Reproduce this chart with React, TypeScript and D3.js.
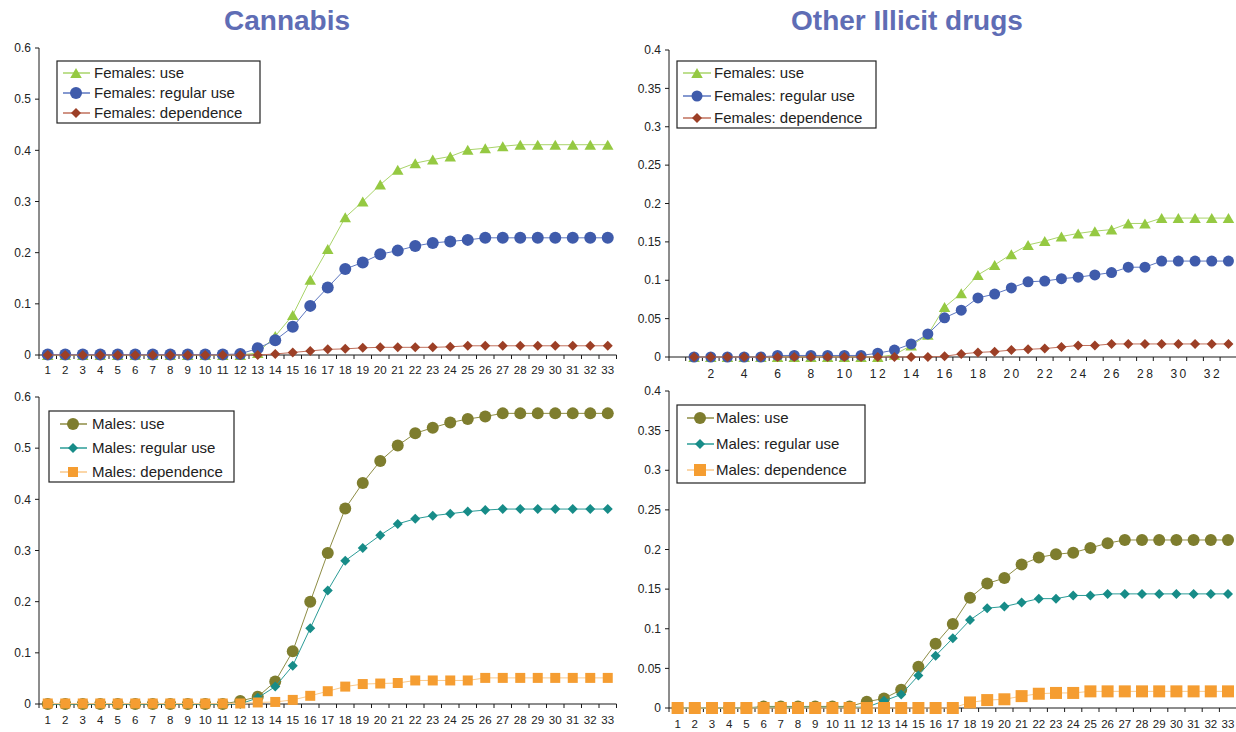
import React from "react";
import * as d3 from "d3";

// ---------- data ----------
const ages: string[] = Array.from({ length: 33 }, (_, i) => String(i + 1));
const agesWithBlank: string[] = ["", ...ages];

const cannabisYTicks = [0, 0.1, 0.2, 0.3, 0.4, 0.5, 0.6];
const cannabisYLabels = ["0", "0.1", "0.2", "0.3", "0.4", "0.5", "0.6"];
const otherYTicks = [0, 0.05, 0.1, 0.15, 0.2, 0.25, 0.3, 0.35, 0.4];
const otherYLabels = ["0", "0.05", "0.1", "0.15", "0.2", "0.25", "0.3", "0.35", "0.4"];

const cannabisFemUse = [0, 0, 0, 0, 0, 0, 0, 0, 0, 0, 0, 0, 0.004, 0.037, 0.078, 0.147, 0.207, 0.269, 0.3, 0.333, 0.362, 0.375, 0.382, 0.388, 0.401, 0.404, 0.408, 0.411, 0.411, 0.411, 0.411, 0.411, 0.411];
const cannabisFemReg = [0.001, 0.001, 0.001, 0.001, 0.001, 0.001, 0.001, 0.001, 0.001, 0.001, 0.001, 0.002, 0.013, 0.029, 0.055, 0.096, 0.132, 0.168, 0.181, 0.197, 0.204, 0.213, 0.219, 0.222, 0.225, 0.229, 0.229, 0.229, 0.229, 0.229, 0.229, 0.229, 0.229];
const cannabisFemDep = [0, 0, 0, 0, 0, 0, 0, 0, 0, 0, 0, 0, 0, 0.002, 0.005, 0.008, 0.011, 0.012, 0.014, 0.015, 0.015, 0.015, 0.015, 0.016, 0.018, 0.018, 0.018, 0.018, 0.018, 0.018, 0.018, 0.018, 0.018];

const cannabisMaleUse = [0, 0, 0, 0, 0, 0, 0, 0, 0, 0, 0, 0.006, 0.014, 0.044, 0.103, 0.2, 0.295, 0.382, 0.432, 0.475, 0.505, 0.529, 0.54, 0.55, 0.557, 0.562, 0.568, 0.568, 0.568, 0.568, 0.568, 0.568, 0.568];
const cannabisMaleReg = [0, 0, 0, 0, 0, 0, 0, 0, 0, 0, 0, 0, 0.012, 0.034, 0.075, 0.148, 0.222, 0.28, 0.305, 0.33, 0.352, 0.362, 0.368, 0.372, 0.376, 0.379, 0.381, 0.381, 0.381, 0.381, 0.381, 0.381, 0.381];
const cannabisMaleDep = [0.001, 0.001, 0.001, 0.001, 0.001, 0.001, 0.001, 0.001, 0.001, 0.001, 0.001, 0.001, 0.003, 0.004, 0.008, 0.016, 0.025, 0.034, 0.039, 0.04, 0.041, 0.046, 0.046, 0.046, 0.046, 0.051, 0.051, 0.051, 0.051, 0.051, 0.051, 0.051, 0.051];

const otherFemUse = [0, 0, 0, 0, 0, 0, 0, 0, 0, 0, 0, 0, 0.003, 0.015, 0.029, 0.065, 0.083, 0.107, 0.12, 0.134, 0.146, 0.151, 0.157, 0.161, 0.164, 0.166, 0.174, 0.174, 0.181, 0.181, 0.181, 0.181, 0.181];
const otherFemReg = [0, 0, 0, 0, 0, 0.002, 0.002, 0.002, 0.002, 0.002, 0.002, 0.005, 0.009, 0.017, 0.03, 0.051, 0.061, 0.077, 0.082, 0.09, 0.098, 0.099, 0.102, 0.104, 0.107, 0.11, 0.117, 0.117, 0.125, 0.125, 0.125, 0.125, 0.125];
const otherFemDep = [0, 0, 0, 0, 0, 0, 0, 0, 0, 0, 0, 0, 0, 0, 0, 0.001, 0.004, 0.006, 0.007, 0.009, 0.01, 0.011, 0.013, 0.015, 0.015, 0.017, 0.017, 0.017, 0.017, 0.017, 0.017, 0.017, 0.017];

const otherMaleUse = [0, 0, 0, 0, 0, 0.002, 0.002, 0.002, 0.002, 0.002, 0.002, 0.008, 0.012, 0.023, 0.052, 0.081, 0.106, 0.139, 0.157, 0.164, 0.181, 0.19, 0.194, 0.196, 0.202, 0.208, 0.212, 0.212, 0.212, 0.212, 0.212, 0.212, 0.212];
const otherMaleReg = [0, 0, 0, 0, 0, 0.001, 0.001, 0.001, 0.001, 0.001, 0.001, 0.001, 0.009, 0.017, 0.041, 0.066, 0.088, 0.111, 0.126, 0.128, 0.133, 0.138, 0.138, 0.142, 0.142, 0.144, 0.144, 0.144, 0.144, 0.144, 0.144, 0.144, 0.144];
const otherMaleDep = [0, 0, 0, 0, 0, 0, 0, 0, 0, 0, 0, 0, 0, 0, 0, 0, 0, 0.007, 0.01, 0.011, 0.015, 0.018, 0.019, 0.019, 0.021, 0.021, 0.021, 0.021, 0.021, 0.021, 0.021, 0.021, 0.021];

// ---------- styles ----------
const FONT = "'Liberation Sans', Arial, sans-serif";
const AXIS = "#1a1a1a";
const TEXT = "#222";

type Marker = "triangle" | "circle" | "diamond" | "square";
interface Series { name: string; values: number[]; color: string; line: string; marker: Marker; size: number; }

function markerPath(m: Marker, s: number): string {
  const h = s / 2;
  if (m === "triangle") return `M0,${-h}L${h * 1.15},${h}L${-h * 1.15},${h}Z`;
  if (m === "diamond") return `M0,${-h}L${h},0L0,${h}L${-h},0Z`;
  if (m === "square") return `M${-h},${-h}H${h}V${h}H${-h}Z`;
  return d3.arc()({ innerRadius: 0, outerRadius: h, startAngle: 0, endAngle: 2 * Math.PI }) as string;
}

interface PanelCfg {
  x0: number; x1: number; yTop: number; yBottom: number; yMax: number;
  ticks: number[]; tickLabels: string[]; cats: string[]; labelEvery: boolean;
  labelDy: number; letterSpacing: number; xFont: number;
  series: Series[];
  legend: { x: number; y: number; w: number; h: number; rows: number[]; mx: number; lx0: number; lx1: number; tx: number };
}

function Panel({ cfg }: { cfg: PanelCfg }) {
  const x = d3.scaleBand<string>().domain(cfg.cats.map((c, i) => String(i))).range([cfg.x0, cfg.x1]).padding(0);
  const y = d3.scaleLinear().domain([0, cfg.yMax]).range([cfg.yBottom, cfg.yTop]);
  const offset = cfg.cats.length - 33;
  const cx = (i: number) => (x(String(i + offset)) as number) + x.bandwidth() / 2;
  const line = d3.line<number>().x((_, i) => cx(i)).y((v) => y(v));
  const bounds = d3.range(cfg.cats.length + 1).map((i) => cfg.x0 + i * x.bandwidth());
  return (
    <g>
      {/* y axis */}
      <line x1={cfg.x0} x2={cfg.x0} y1={y(cfg.yMax)} y2={y(0)} stroke={AXIS} strokeWidth={1} />
      {cfg.ticks.map((t, i) => (
        <g key={"yt" + i}>
          <line x1={cfg.x0 - 4} x2={cfg.x0} y1={y(t)} y2={y(t)} stroke={AXIS} />
          <text x={cfg.x0 - 8} y={y(t)} dy="0.35em" textAnchor="end" fontSize={12} fill={TEXT} fontFamily={FONT}>{cfg.tickLabels[i]}</text>
        </g>
      ))}
      {/* x axis */}
      <line x1={cfg.x0} x2={cfg.x1} y1={y(0)} y2={y(0)} stroke={AXIS} strokeWidth={1} />
      {bounds.map((b, i) => (
        <line key={"xb" + i} x1={b} x2={b} y1={y(0)} y2={y(0) + 4} stroke={AXIS} />
      ))}
      {cfg.cats.map((c, i) => {
        if (!c) return null;
        if (cfg.labelEvery === false && (i % 2 === 1)) return null;
        return (
          <text key={"xl" + i} x={(x(String(i)) as number) + x.bandwidth() / 2 + cfg.letterSpacing / 2} y={y(0) + cfg.labelDy}
            textAnchor="middle" fontSize={cfg.xFont} fill={TEXT} fontFamily={FONT} letterSpacing={cfg.letterSpacing}>{c}</text>
        );
      })}
      {/* series */}
      {cfg.series.map((s, si) => (
        <g key={"s" + si}>
          <path d={line(s.values) as string} fill="none" stroke={s.line} strokeWidth={1} />
          {s.values.map((v, i) => (
            <path key={i} d={markerPath(s.marker, s.size)} transform={`translate(${cx(i)},${y(v)})`} fill={s.color} />
          ))}
        </g>
      ))}
      {/* legend */}
      <rect x={cfg.legend.x} y={cfg.legend.y} width={cfg.legend.w} height={cfg.legend.h} fill="#fff" stroke="#222" strokeWidth={1.2} />
      {cfg.series.map((s, si) => {
        const ry = cfg.legend.rows[si];
        return (
          <g key={"lg" + si}>
            <line x1={cfg.legend.lx0} x2={cfg.legend.lx1} y1={ry} y2={ry} stroke={s.line} strokeWidth={1.5} />
            <path d={markerPath(s.marker, s.size)} transform={`translate(${cfg.legend.mx},${ry})`} fill={s.color} />
            <text x={cfg.legend.tx} y={ry} dy="0.35em" fontSize={15} fill={TEXT} fontFamily={FONT}>{s.name}</text>
          </g>
        );
      })}
    </g>
  );
}

const green = "#95c942", greenL = "#a9d46a";
const blue = "#3f5bab", blueL = "#5d77c0";
const brown = "#9c3f26", brownL = "#c0705c";
const olive = "#7e7d2e", oliveL = "#8e8d45";
const teal = "#178c88", tealL = "#2b9c97";
const orange = "#f59d31", orangeL = "#fac98b";

const femSeries = (u: number[], r: number[], d: number[], cs: number): Series[] => [
  { name: "Females: use", values: u, color: green, line: greenL, marker: "triangle", size: 10 },
  { name: "Females: regular use", values: r, color: blue, line: blueL, marker: "circle", size: cs },
  { name: "Females: dependence", values: d, color: brown, line: brownL, marker: "diamond", size: 10 },
];
const maleSeries = (u: number[], r: number[], d: number[], cs: number, ss: number): Series[] => [
  { name: "Males: use", values: u, color: olive, line: oliveL, marker: "circle", size: cs },
  { name: "Males: regular use", values: r, color: teal, line: tealL, marker: "diamond", size: 10 },
  { name: "Males: dependence", values: d, color: orange, line: orangeL, marker: "square", size: ss },
];

const panels: PanelCfg[] = [
  {
    x0: 39, x1: 39 + 33 * 17.5, yTop: 48, yBottom: 355, yMax: 0.6, ticks: cannabisYTicks, tickLabels: cannabisYLabels,
    cats: ages, labelEvery: true, labelDy: 19, letterSpacing: 0, xFont: 11.5,
    series: femSeries(cannabisFemUse, cannabisFemReg, cannabisFemDep, 12),
    legend: { x: 57, y: 61, w: 203, h: 62, rows: [73, 93, 113], mx: 76, lx0: 63, lx1: 90, tx: 94 },
  },
  {
    x0: 669, x1: 669 + 34 * 16.7, yTop: 50, yBottom: 357, yMax: 0.4, ticks: otherYTicks, tickLabels: otherYLabels,
    cats: agesWithBlank, labelEvery: false, labelDy: 21, letterSpacing: 2.5, xFont: 12,
    series: femSeries(otherFemUse, otherFemReg, otherFemDep, 11),
    legend: { x: 677, y: 61, w: 199, h: 67, rows: [73, 96, 118], mx: 697, lx0: 683, lx1: 711, tx: 714 },
  },
  {
    x0: 39, x1: 39 + 33 * 17.5, yTop: 397, yBottom: 704, yMax: 0.6, ticks: cannabisYTicks, tickLabels: cannabisYLabels,
    cats: ages, labelEvery: true, labelDy: 20, letterSpacing: 0, xFont: 11.5,
    series: maleSeries(cannabisMaleUse, cannabisMaleReg, cannabisMaleDep, 12, 10),
    legend: { x: 49, y: 411, w: 185, h: 71, rows: [424, 448, 472], mx: 73, lx0: 60, lx1: 87, tx: 92 },
  },
  {
    x0: 669, x1: 669 + 33 * 17.2, yTop: 391, yBottom: 708, yMax: 0.4, ticks: otherYTicks, tickLabels: otherYLabels,
    cats: ages, labelEvery: true, labelDy: 20, letterSpacing: 0, xFont: 11.5,
    series: maleSeries(otherMaleUse, otherMaleReg, otherMaleDep, 12, 12),
    legend: { x: 677, y: 405, w: 188, h: 78, rows: [418, 444, 470], mx: 700, lx0: 687, lx1: 714, tx: 716 },
  },
];

export default function App() {
  return (
    <div style={{ position: "absolute", left: 0, top: 0 }}>
      <svg width={1236} height={732} viewBox="0 0 1236 732" style={{ display: "block", background: "#fff" }}>
        <text x={287} y={30} textAnchor="middle" fontSize={28} fontWeight="bold" fill="#5f6db5" fontFamily={FONT}>Cannabis</text>
        <text x={907} y={30} textAnchor="middle" fontSize={28} fontWeight="bold" fill="#5f6db5" fontFamily={FONT}>Other Illicit drugs</text>
        {panels.map((p, i) => <Panel key={i} cfg={p} />)}
      </svg>
    </div>
  );
}
